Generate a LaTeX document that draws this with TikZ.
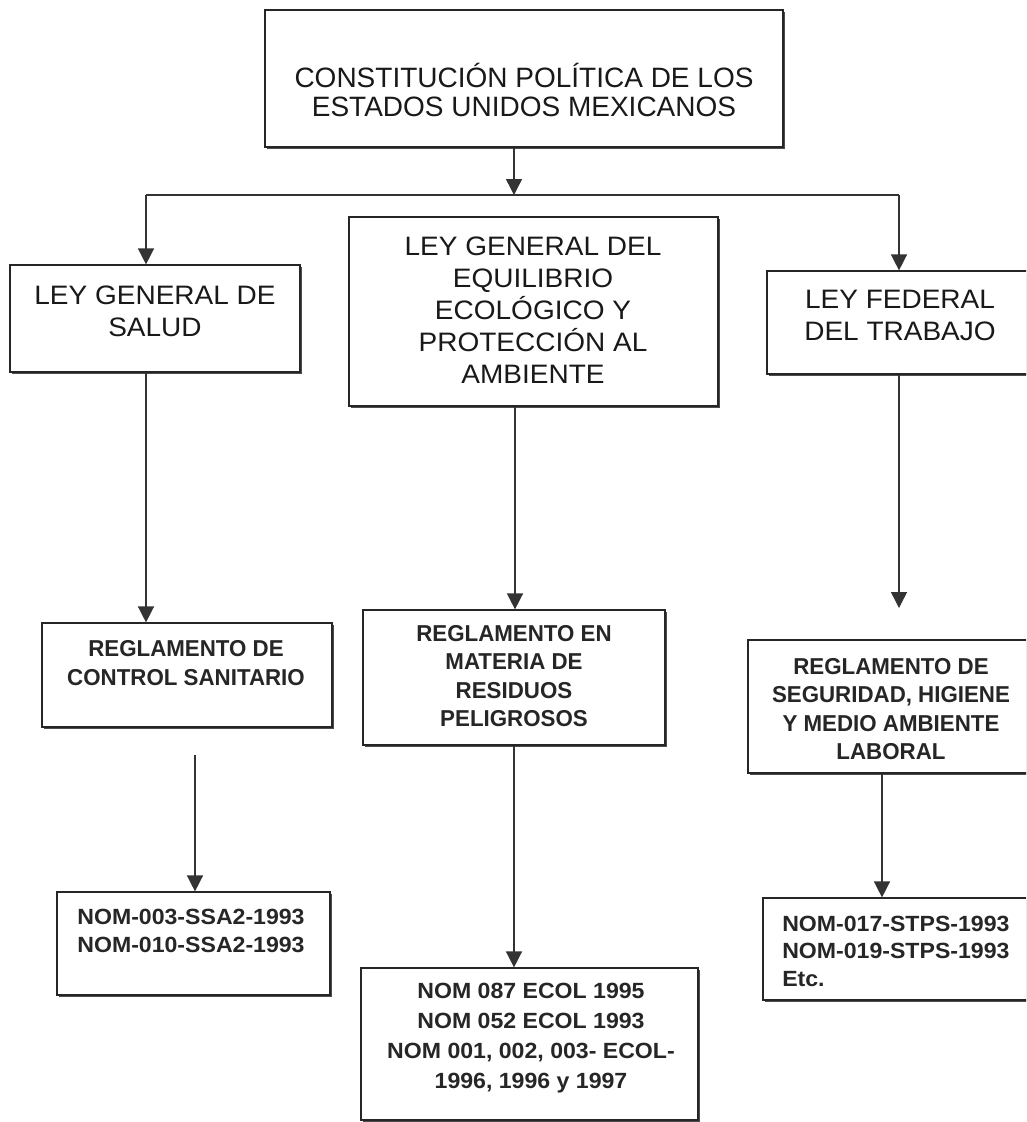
\documentclass[tikz,border=0pt]{standalone}
\usepackage{fontspec}
\setmainfont{Liberation Sans}
\newfontfamily\fontA[FakeStretch=1.05]{Liberation Sans}
\newfontfamily\fontT[FakeStretch=1.0]{Liberation Sans}
\newfontfamily\fontB[FakeStretch=0.97]{Liberation Sans}
\newfontfamily\fontC[FakeStretch=1.05]{Liberation Sans}
\usetikzlibrary{arrows.meta,shadows,fit}
\begin{document}
\begin{tikzpicture}[x=0.75pt,y=-0.75pt,
  box/.style={draw=black!85, line width=0.9pt, fill=white, inner sep=0pt,
    drop shadow={shadow xshift=1.8pt, shadow yshift=-1.8pt, opacity=1, fill=black!70}},
  conn/.style={draw=black!80, line width=1.1pt},
  arr/.style={conn, -{Triangle[width=12pt,length=12pt]}},
  txtA/.style={inner sep=0pt, align=center, text=black!90,
    font=\fontA\fontsize{20pt}{24pt}\selectfont},
  txtB/.style={inner sep=0pt, align=center, text=black!85,
    font=\fontB\bfseries\fontsize{17.25pt}{21.4pt}\selectfont},
  txtC/.style={inner sep=0pt, text=black!85,
    font=\fontC\bfseries\fontsize{16.5pt}{20.6pt}\selectfont}
]
\useasboundingbox (0,0) rectangle (1026,1122);
\clip (0,0) rectangle (1026,1122);

% boxes
\node[box, fit={(265,10) (783,147)}] (top) {};
\node[box, fit={(10,265) (300,372)}] (lgs) {};
\node[box, fit={(349,217) (718,406)}] (lge) {};
\node[box, fit={(767,271) (1040,374)}] (lft) {};
\node[box, fit={(42,623) (332,727)}] (rcs) {};
\node[box, fit={(363,610) (665,745)}] (rmr) {};
\node[box, fit={(748,640) (1040,773)}] (rsh) {};
\node[box, fit={(57,892) (330,995)}] (nssa) {};
\node[box, fit={(361,968) (698,1120)}] (necol) {};
\node[box, fit={(763,898) (1040,1000)}] (nstps) {};

% texts
\node[txtA, font=\fontT\fontsize{21pt}{21.5pt}\selectfont] (ttop) at (524,90)
  {CONSTITUCIÓN POLÍTICA DE LOS\\ESTADOS UNIDOS MEXICANOS};
\node[txtA] (tlgs) at (155,311) {LEY GENERAL DE\\SALUD};
\node[txtA] (tlge) at (533,310) {LEY GENERAL DEL\\EQUILIBRIO\\ECOLÓGICO Y\\PROTECCIÓN AL\\AMBIENTE};
\node[txtA] (tlft) at (900,315) {LEY FEDERAL\\DEL TRABAJO};
\node[txtB] (trcs) at (186,663) {REGLAMENTO DE\\CONTROL SANITARIO};
\node[txtB] (trmr) at (514,676) {REGLAMENTO EN\\MATERIA DE\\RESIDUOS\\PELIGROSOS};
\node[txtB] (trsh) at (891,709) {REGLAMENTO DE\\SEGURIDAD, HIGIENE\\Y MEDIO AMBIENTE\\LABORAL};
\node[txtC, align=center] (tnssa) at (191,931) {NOM-003-SSA2-1993\\NOM-010-SSA2-1993};
\node[txtC, align=center, font=\fontC\bfseries\fontsize{16.5pt}{22.3pt}\selectfont] (tnecol) at (531,1038)
  {NOM 087 ECOL 1995\\NOM 052 ECOL 1993\\NOM 001, 002, 003- ECOL-\\1996, 1996 y 1997};
\node[txtC, align=left, anchor=west] (tnstps) at (782,951) {NOM-017-STPS-1993\\NOM-019-STPS-1993\\Etc.};

% connector points
\coordinate (jc) at (514,195);
\coordinate (jl) at (146,195);
\coordinate (jr) at (899,195);
\coordinate (s1) at (195,755);
\coordinate (e3) at (899,608);

% connectors
\draw[arr] (514,0 |- top.south) -- (jc);
\draw[conn] (jl) -- (jr);
\draw[arr] (jl) -- (146,0 |- lgs.north);
\draw[arr] (jr) -- (899,0 |- lft.north);
\draw[arr] (146,0 |- lgs.south) -- (146,0 |- rcs.north);
\draw[arr] (s1) -- (195,0 |- nssa.north);
\draw[arr] (515,0 |- lge.south) -- (515,0 |- rmr.north);
\draw[arr] (514,0 |- rmr.south) -- (514,0 |- necol.north);
\draw[arr] (899,0 |- lft.south) -- (e3);
\draw[arr] (882,0 |- rsh.south) -- (882,0 |- nstps.north);
\end{tikzpicture}
\end{document}
